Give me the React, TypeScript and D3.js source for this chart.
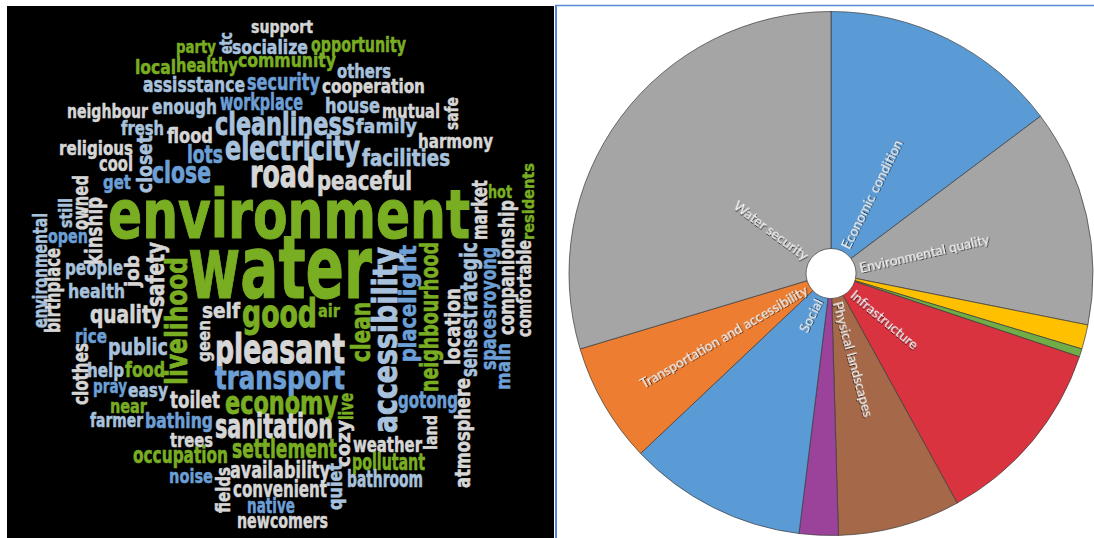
import React from "react";
import * as d3 from "d3";

// ---------- Pie data ----------
const PIE_CATEGORIES = [
  "Economic condition",
  "Environmental quality",
  "",
  "",
  "Infrastructure",
  "Physical landscapes",
  "",
  "Social",
  "Transportation and accessibility",
  "Water security",
];
const PIE_VALUES = [14.75, 13.4, 1.5, 0.5, 11.85, 7.55, 2.4, 11.0, 7.4, 29.65];
const PIE_COLORS = [
  "#5B9BD5",
  "#A5A5A5",
  "#FFC000",
  "#70AD47",
  "#D9333F",
  "#A5694A",
  "#9B439B",
  "#5B9BD5",
  "#ED7D31",
  "#A5A5A5",
];

// ---------- Word cloud data ----------
const GREEN_WORDS = ["party", "local", "healthy", "community", "opportunity", "environment", "water", "livelihood", "good", "air", "clean", "neighbourhood", "hot", "residents", "food", "near", "occupation", "settlement", "economy", "live", "pollutant"];
const BLUE_WORDS = ["workplace", "security", "lots", "close", "get", "transport", "open", "rice", "pray", "bathing", "noise", "native", "gotong", "place", "light", "spaces", "royong", "main"];
const LIGHTBLUE_WORDS = ["etc", "socialize", "assisstance", "enough", "others", "house", "fresh", "cleanliness", "electricity", "family", "facilities", "closet", "people", "health", "environmental", "still", "public", "help", "easy", "farmer", "quiet", "bathroom", "accessibility", "sense", "strategic"];

// layout: [word, x, y, length, x-height, vertical]
// horizontal: x = left, y = baseline; vertical (rotated -90): x = baseline, y = bottom
const CLOUD_LAYOUT: [string, number, number, number, number, number][] = [
  ["support", 251, 33, 62, 10, 0],
  ["party", 176, 53, 40, 10, 0],
  ["socialize", 232, 54, 76, 11, 0],
  ["opportunity", 311, 52, 95, 11.5, 0],
  ["local", 135, 74, 41, 11, 0],
  ["healthy", 176, 72, 62, 11, 0],
  ["community", 238, 67, 98, 10.5, 0],
  ["others", 337, 78, 54, 11, 0],
  ["assisstance", 143, 92, 102, 12, 0],
  ["security", 247, 90, 73, 13, 0],
  ["cooperation", 322, 93, 103, 11, 0],
  ["neighbour", 67, 118, 81, 11, 0],
  ["enough", 152, 114, 65, 12, 0],
  ["workplace", 220, 110, 83, 13, 0],
  ["house", 325, 113, 55, 12, 0],
  ["mutual", 382, 118, 58, 11, 0],
  ["fresh", 121, 135, 43, 11, 0],
  ["flood", 167, 143, 46, 12, 0],
  ["cleanliness", 215, 135, 140, 17, 0],
  ["family", 356, 133, 61, 11, 0],
  ["harmony", 418, 148, 75, 11, 0],
  ["religious", 59, 155, 74, 11, 0],
  ["lots", 187, 163, 36, 14, 0],
  ["electricity", 225, 160, 135, 18, 0],
  ["facilities", 362, 166, 88, 13, 0],
  ["cool", 99, 171, 34, 12, 0],
  ["close", 152, 183, 59, 16, 0],
  ["get", 103, 189, 28, 11, 0],
  ["road", 250, 187, 65, 21, 0],
  ["peaceful", 317, 190, 95, 15, 0],
  ["hot", 488, 198, 24, 10, 0],
  ["environment", 108, 238, 362, 37, 0],
  ["water", 188, 298, 184, 48, 0],
  ["open", 48, 243, 40, 11, 0],
  ["people", 65, 275, 58, 12, 0],
  ["health", 68, 298, 57, 11, 0],
  ["quality", 90, 323, 73, 14, 0],
  ["rice", 75, 343, 32, 11, 0],
  ["public", 108, 355, 60, 13, 0],
  ["self", 202, 318, 38, 12, 0],
  ["good", 242, 327, 75, 21, 0],
  ["air", 318, 317, 22, 10, 0],
  ["pleasant", 215, 363, 130, 22, 0],
  ["transport", 215, 389, 130, 17, 0],
  ["economy", 225, 414, 113, 17, 0],
  ["sanitation", 215, 438, 118, 18, 0],
  ["help", 87, 377, 37, 11, 0],
  ["food", 125, 377, 40, 12, 0],
  ["pray", 93, 393, 34, 11, 0],
  ["easy", 128, 397, 40, 11, 0],
  ["toilet", 170, 408, 50, 13, 0],
  ["near", 110, 413, 37, 11, 0],
  ["farmer", 90, 427, 53, 11, 0],
  ["bathing", 145, 428, 68, 12, 0],
  ["trees", 170, 447, 43, 11, 0],
  ["occupation", 133, 463, 95, 13, 0],
  ["settlement", 232, 458, 105, 15, 0],
  ["noise", 169, 483, 44, 11, 0],
  ["availability", 230, 478, 100, 13, 0],
  ["convenient", 233, 497, 94, 13, 0],
  ["native", 247, 513, 48, 12, 0],
  ["newcomers", 237, 528, 91, 12, 0],
  ["weather", 353, 452, 69, 12, 0],
  ["pollutant", 352, 470, 73, 13, 0],
  ["bathroom", 347, 487, 76, 13, 0],
  ["gotong", 398, 408, 60, 13, 0],
  ["etc", 232, 54, 22, 10, 1],
  ["safe", 458, 130, 33, 10, 1],
  ["closet", 152, 193, 58, 12, 1],
  ["residents", 534, 240, 77, 9, 1],
  ["market", 487, 240, 60, 12, 1],
  ["companionship", 514, 335, 135, 12, 1],
  ["comfortable", 531, 337, 97, 11, 1],
  ["main", 510, 390, 47, 11, 1],
  ["spaces", 496, 370, 61, 12, 1],
  ["royong", 496, 309, 62, 12, 1],
  ["sense", 477, 377, 48, 13, 1],
  ["strategic", 477, 329, 87, 13, 1],
  ["atmosphere", 470, 488, 110, 12, 1],
  ["location", 460, 365, 77, 12, 1],
  ["neighbourhood", 438, 392, 150, 14, 1],
  ["place", 416, 362, 58, 13, 1],
  ["light", 416, 304, 59, 13, 1],
  ["accessibility", 397, 433, 186, 18, 1],
  ["clean", 370, 362, 60, 15, 1],
  ["live", 353, 420, 27, 11, 1],
  ["cozy", 350, 467, 47, 11, 1],
  ["land", 437, 450, 35, 10, 1],
  ["quiet", 342, 510, 47, 11, 1],
  ["fields", 230, 513, 46, 11, 1],
  ["clothes", 88, 405, 62, 12, 1],
  ["livelihood", 187, 385, 128, 16, 1],
  ["safety", 164, 307, 65, 14, 1],
  ["job", 139, 287, 32, 11, 1],
  ["geen", 210, 362, 42, 10, 1],
  ["birthplace", 60, 333, 85, 12, 1],
  ["environmental", 47, 328, 115, 11, 1],
  ["still", 72, 228, 30, 10, 1],
  ["owned", 88, 230, 55, 12, 1],
  ["kinship", 102, 265, 68, 13, 1],
];

const TONE = {
  green: "#7AAE22",
  blue: "#6C9FD5",
  lightblue: "#A8C2DD",
  gray: "#D6D6D6",
};

function toneOf(w: string) {
  if (GREEN_WORDS.includes(w)) return TONE.green;
  if (BLUE_WORDS.includes(w)) return TONE.blue;
  if (LIGHTBLUE_WORDS.includes(w)) return TONE.lightblue;
  return TONE.gray;
}

const W = 1094;
const H = 538;
const XH = 0.547; // x-height ratio of the font

export default function App() {
  const cx = 831;
  const cy = 273.5;
  const R = 262;
  const r0 = 25;
  const pie = d3
    .pie<number>()
    .sort(null)
    .value((d) => d)(PIE_VALUES);
  const arc = d3.arc<d3.PieArcDatum<number>>().innerRadius(r0).outerRadius(R);

  return (
    <svg
      width={W}
      height={H}
      style={{ position: "absolute", left: 0, top: 0, background: "#fff" }}
    >
      <defs>
        <filter id="sh" x="-10%" y="-50%" width="120%" height="200%">
          <feDropShadow dx="0.9" dy="0.9" stdDeviation="0.7" floodColor="#000" floodOpacity="0.75" />
        </filter>
      </defs>
      {/* word cloud panel */}
      <rect x={7} y={6} width={547} height={532} fill="#000" />
      <g fontFamily="'DejaVu Sans Condensed', 'Liberation Sans Narrow', 'DejaVu Sans', sans-serif" fontWeight="bold">
        {CLOUD_LAYOUT.map(([w, x, y, len, h, v]) => {
          const fs = h / XH;
          const c = toneOf(w);
          return (
            <text
              key={w}
              transform={v ? `translate(${x},${y}) rotate(-90)` : `translate(${x},${y})`}
              fontSize={fs}
              textLength={len}
              lengthAdjust="spacingAndGlyphs"
              fill={c}
              stroke={c}
              strokeWidth={Math.min(1, fs * 0.025)}
            >
              {w}
            </text>
          );
        })}
      </g>

      {/* pie panel frame */}
      <line x1={556} y1={5} x2={556} y2={H} stroke="#5A87D8" strokeWidth={2} />
      <line x1={555} y1={5.5} x2={W} y2={5.5} stroke="#5A87D8" strokeWidth={1.5} />

      <g transform={`translate(${cx},${cy})`}>
        {pie.map((d, i) => (
          <path key={i} d={arc(d) || ""} fill={PIE_COLORS[i]} stroke="#3a3a3a" strokeWidth={0.7} />
        ))}
        {pie.map((d, i) => {
          const label = PIE_CATEGORIES[i];
          if (!label) return null;
          const mid = (d.startAngle + d.endAngle) / 2;
          const deg = (mid * 180) / Math.PI;
          const rl = 29;
          const px = rl * Math.sin(mid);
          const py = -rl * Math.cos(mid);
          const right = mid < Math.PI;
          const rot = right ? deg - 90 : deg + 90;
          return (
            <text
              key={"l" + i}
              transform={`translate(${px},${py}) rotate(${rot})`}
              textAnchor={right ? "start" : "end"}
              dominantBaseline="central"
              fontFamily="Lato, 'Open Sans', sans-serif"
              fontSize={13.9}
              fill="#F6F6F6"
              filter="url(#sh)"
            >
              {label}
            </text>
          );
        })}
      </g>
    </svg>
  );
}
